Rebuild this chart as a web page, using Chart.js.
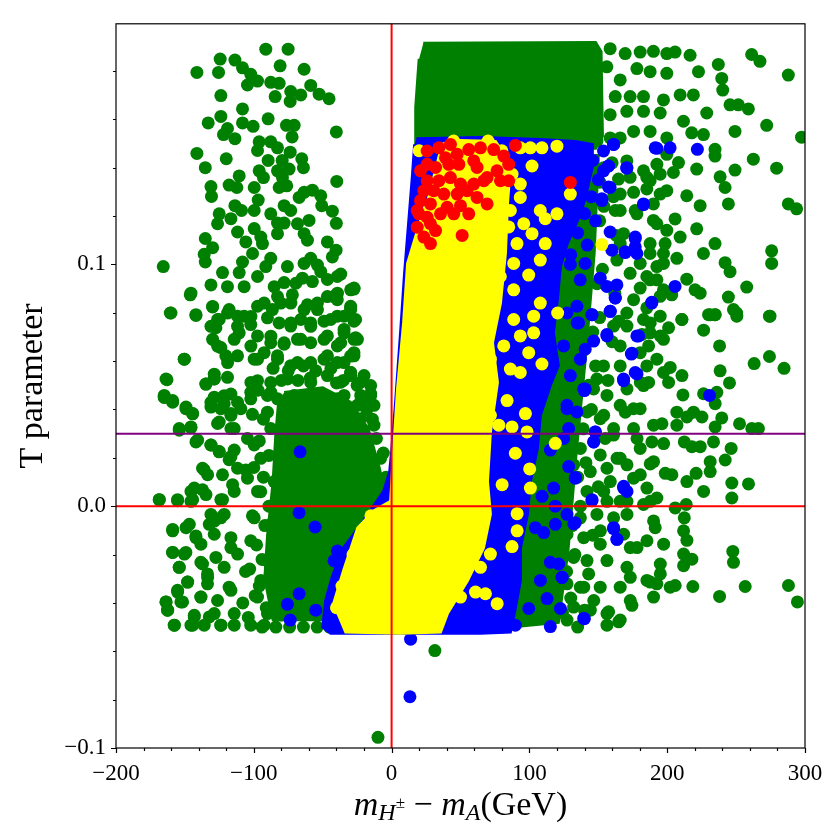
<!DOCTYPE html>
<html>
<head>
<meta charset="utf-8">
<script src="https://cdn.jsdelivr.net/npm/chart.js@4.4.1/dist/chart.umd.min.js"></script>
<style>
html, body { margin: 0; padding: 0; background: #fff; }
canvas { display: block; }
</style>
</head>
<body>
<canvas id="chart" width="840" height="840"></canvas>
<script>
// axis ranges and tick labels
var xRange = [-200, 300]
var yRange = [-0.1, 0.1995]
var xTicks = [-200, -100, 0, 100, 200, 300]
var yTicks = [-0.1, 0.0, 0.1]
var xMinorStep = 20
var yMinorStep = 0.02

// reference lines
var refX = 0
var refY0 = 0
var refYPurple = 0.03

// outlines of the fully covered areas (x, T)
var greenBlock = [[23,0.1915],[148,0.1918],[152,0.188],[153,0.153],[148,0.148],[17,0.148],[17.5,0.165],[20,0.185]]
var greenLeftCore = [[-78,0.047],[-50,0.049],[-30,0.043],[-17,0.032],[-9,0.016],[-5,0.005],[-1,-0.003],[-39,-0.047],[-86,-0.047],[-92,-0.03],[-90,-0.012],[-86,0.01],[-84,0.03],[-82,0.043]]
var greenRightCore = [[144,0.145],[150,0.145],[147,0.1045],[141,0.0635],[134,0.0225],[128,-0.0184],[121,-0.048],[86,-0.05],[93.5,-0.0225],[100.7,0.0102],[111.6,0.043],[117.4,0.084],[126,0.1086],[140.6,0.1332]]
var blueBand = [[18.1,0.152],[64.5,0.1525],[108,0.1516],[133.3,0.1508],[145.7,0.1496],[145.7,0.1402],[139.9,0.1262],[135.5,0.1189],[127.5,0.1086],[122.5,0.0992],[120.3,0.0852],[117.4,0.0717],[121,0.0582],[115.2,0.05],[108,0.0377],[105.8,0.0238],[100.7,0.0102],[98.6,-0.0033],[93.5,-0.0172],[93.5,-0.0307],[89.1,-0.0443],[86.2,-0.052],[64.5,-0.0525],[6.5,-0.0525],[-44.2,-0.0525],[-50,-0.05],[-47.8,-0.0389],[-42.8,-0.0287],[-34.8,-0.0172],[-20.3,-0.0061],[-5.8,0.0061],[-1.4,0.0143],[0,0.0225],[2.9,0.043],[6.5,0.0717],[9.4,0.0963],[12.3,0.1168],[15.2,0.1373],[16.7,0.1496]]
var yellowBand = [[35.5,0.1496],[50,0.1512],[75.4,0.1508],[86.2,0.1414],[84.1,0.125],[82.6,0.1045],[79,0.084],[73.2,0.0676],[76.8,0.0512],[71.7,0.0307],[69.6,0.0102],[71.7,-0.0033],[66.7,-0.0172],[55.1,-0.0307],[40.6,-0.0443],[35.5,-0.052],[6.5,-0.0525],[-33.3,-0.052],[-42,-0.0402],[-34.8,-0.0266],[-24.6,-0.009],[-13,-0.002],[-0.7,0.002],[1.4,0.0225],[4.3,0.0484],[8.7,0.0758],[11.6,0.1004],[13.8,0.1045],[24.6,0.125]]

// single points (x, T)
var greenPts = [
[-91.3,0.189],[-75.1,0.189],[-124.4,0.1849],[-113.7,0.1845],[-141.3,0.1794],[-125.6,0.1794],[-108.2,0.1813],[-102.2,0.1786],[-97.3,0.1758],[-104.6,0.1742],[-87.7,0.1753],[-81.6,0.1749],[-80.9,0.1821],[-63.5,0.1807],[-73.2,0.1715],[-65.9,0.1701],[-58.7,0.174],[-52.6,0.1704],[-45.4,0.1685],[-73.6,0.1674],[-84.5,0.1694],[-123.9,0.1698],[-108.2,0.1643],[-133.1,0.1585],[-123.9,0.1612],[-108.2,0.1585],[-100.5,0.1571],[-89.6,0.1602],[-119.1,0.1562],[-122,0.1537],[-113.7,0.152],[-76.3,0.1575],[-70.7,0.1575],[-72.2,0.1527],[-40.1,0.1548],[-96.1,0.1507],[-97.3,0.1471],[-87.7,0.1507],[-82.8,0.1482],[-73.6,0.1464],[-141.3,0.1459],[-120,0.1437],[-89.6,0.143],[-79.4,0.143],[-65.2,0.1437],[-64,0.14],[-135.2,0.14],[-96.1,0.1387],[-93,0.1359],[-82.8,0.1387],[-74.4,0.1394],[-79.2,0.1359],[-110.6,0.1366],[-117.9,0.1328],[-112.3,0.1318],[-131.1,0.1322],[-130.7,0.1281],[-99.7,0.1318],[-81.6,0.1318],[-76.1,0.1325],[-96.8,0.1266],[-67.1,0.1277],[-63.5,0.1298],[-57.5,0.1307],[-51.4,0.1284],[-50.7,0.1243],[-39.8,0.1343],[-43,0.122],[-40.1,0.117],[-78,0.1243],[-73.2,0.1223],[-87.7,0.1209],[-99.7,0.1223],[-113.7,0.1243],[-108.9,0.1223],[-125.1,0.1209],[-116.6,0.1189],[-126.3,0.1168],[-82.8,0.1171],[-78,0.1171],[-59.9,0.1182],[-68.3,0.1168],[-111.8,0.1134],[-99.7,0.1148],[-94.9,0.1113],[-82.8,0.1127],[-63.5,0.1127],[-135.2,0.1107],[-105.8,0.1093],[-93.7,0.1086],[-61.1,0.11],[-46.6,0.1093],[-40.3,0.1059],[-43,0.1031],[-129.9,0.1069],[-136,0.1042],[-135.2,0.101],[-100.9,0.1045],[-108.2,0.101],[-87.7,0.1025],[-91.3,0.0991],[-75.6,0.0991],[-63.5,0.1004],[-58.7,0.1025],[-53.8,0.0997],[-51.4,0.097],[-46.6,0.0938],[-36.9,0.096],[-165.7,0.0991],[-122.7,0.0966],[-131.1,0.0915],[-119.1,0.0908],[-110.6,0.0966],[-107,0.0908],[-97.3,0.095],[-85.2,0.0908],[-78,0.0925],[-69.5,0.0922],[-64.7,0.0943],[-57.5,0.0929],[-27.3,0.0898],[-146.1,0.0874],[-160.6,0.0799],[-142,0.0789],[-129.9,0.0824],[-117.9,0.0813],[-107,0.0786],[-97.3,0.0827],[-86.5,0.0813],[-80.4,0.084],[-72,0.0874],[-61.1,0.0833],[-53.8,0.0813],[-46.6,0.0867],[-39.3,0.0881],[-29.7,0.082],[-125.1,0.0772],[-127.5,0.0738],[-111.8,0.0786],[-102.2,0.0751],[-90.1,0.0779],[-81.6,0.0758],[-73.2,0.0745],[-65.9,0.0772],[-58.7,0.0758],[-49,0.0765],[-34.5,0.0786],[-27.3,0.0765],[-129.9,0.069],[-123.9,0.0656],[-110.6,0.0717],[-97.3,0.0704],[-87.7,0.0676],[-78,0.067],[-68.3,0.069],[-58.7,0.0676],[-46.6,0.0704],[-36.9,0.0676],[-26.1,0.0697],[-150.5,0.0608],[-120.3,0.0622],[-111.8,0.0622],[-99.7,0.0608],[-92.5,0.0635],[-82.8,0.0622],[-73.2,0.0581],[-58.7,0.0594],[-46.6,0.0622],[-34.5,0.0594],[-27.3,0.0622],[-163,0.0523],[-134.8,0.0505],[-128.7,0.0526],[-119.1,0.0533],[-97.3,0.0519],[-87.7,0.0512],[-75.6,0.0526],[-58.7,0.0512],[-46.6,0.054],[-29.7,0.054],[-15.2,0.0464],[-165,0.0458],[-128.7,0.0451],[-116.6,0.0464],[-102.2,0.0471],[-90.1,0.0458],[-70.7,0.0458],[-49,0.0451],[-34.5,0.0458],
[-39.4,0.095],[-27.3,0.0902],[-39.4,0.0854],[-29.7,0.0827],[-39.4,0.0786],[-26.1,0.0772],[-34.5,0.0731],[-27.3,0.069],[-39.4,0.0663],[-27.3,0.0635],[-39.4,0.0594],[-29.7,0.0553],[-36.9,0.0513],[-22.5,0.0513],[-15.2,0.0465],[-39.4,0.0444],[-24.9,0.0417],[-36.9,0.039],[-12.8,0.0417],[-12.8,0.0335],[-22.5,0.0362],[-34.5,0.0335],[-36.9,0.028],[-20,0.0253],[-8,0.0198],[-29.7,0.0198],[-15.2,0.0116],[-34.5,0.0089],[-5.6,0.0075],[-22.5,0.0034],
[-165,0.0451],[-158.9,0.043],[-149.3,0.0403],[-144.4,0.0383],[-154.1,0.0314],[-145.6,0.0328],[-126.3,0.0342],[-131.1,0.041],[-121.5,0.0424],[-116.6,0.0383],[-109.4,0.0403],[-140.8,0.0273],[-131.1,0.0253],[-125.1,0.0226],[-114.2,0.0232],[-117.9,0.0192],[-136,0.015],[-145.6,0.0061],[-137.2,0.0068],[-168.6,0.0027],[-155.3,0.0027],[-144.4,0.0027],[-123.9,0.0027],[-114.2,0.0061],[-105.8,0.015],[-104.6,0.0116],[-131.1,-0.0034],[-123.9,-0.0048],[-132.3,-0.0075],[-146.8,-0.0075],[-158.9,-0.0102],[-142,-0.013],[-128.7,-0.0116],[-158.9,-0.0191],[-149.3,-0.0191],[-138.4,-0.0157],[-154.1,-0.0253],[-138.4,-0.0232],[-133.6,-0.028],[-148,-0.0314],[-133.6,-0.0321],[-155.3,-0.0348],[-152.9,-0.0396],[-163.7,-0.0396],[-162.6,-0.043],[-157.7,-0.0492],[-144.4,-0.0492],[-136,-0.0492],[-123.9,-0.0492],[-114.2,-0.0492],[-138.4,-0.0376],[-128.7,-0.0444],[-143.2,-0.0458],[-117.9,-0.0335],[-121.5,-0.0253],[-111.8,-0.0198],[-102.2,-0.0143],[-116.6,-0.013],[-99.7,-0.0048],[-99.7,0.0253],[-94.9,0.0198],[-87.7,0.0321],[-90.1,0.0389],[-102.2,0.0444],[-82.8,0.0444],[-73.2,0.0403],[-53.8,0.043],[-39.3,0.0403],[-20,0.0417],[-29.7,0.0335],[-68.3,0.0362],[-58.7,0.0348],[-46.6,0.0376],[-22.4,0.0458],[-15.2,0.0499],[-94.9,-0.0307],[-90.1,-0.0444],[-102.2,-0.0492],[-92.5,-0.0492],[-97.3,-0.0376],[-90.1,-0.0225],[-87.7,-0.0075],[-85.2,0.0102],[-82.8,0.002],[-97.3,0.0061],[-108,-0.04],[-106,-0.027],[-80,-0.045],[-75,-0.038],
[-145.6,0.0881],[-160.1,0.0799],[-142,0.0792],[-129.9,0.0826],[-150.4,0.0608],[-163.7,0.0526],[-134.7,0.0505],[-128.7,0.0526],[-164.9,0.045],[-158.9,0.0437],[-149.2,0.041],[-144.4,0.0382],[-154.1,0.0321],[-145.6,0.0325],[-142,0.0266],[-131.1,0.0253],[-125.1,0.0225],[-116.6,0.0205],[-137.2,0.0157],[-133.5,0.013],[-122.7,0.013],[-111.8,0.0157],[-143.2,0.0075],[-134.7,0.0048],[-168.6,0.0027],[-155.3,0.0023],[-145.6,0.002],[-122.7,0.0027],[-115.4,0.0089],[-158.9,-0.0096],[-149.2,-0.0089],[-142,-0.0123],[-128.7,-0.0062],[-121.5,-0.0034],[-158.9,-0.0191],[-150.4,-0.0198],[-154.1,-0.0253],[-137.2,-0.0239],[-127.5,-0.0212],[-116.6,-0.0171],[-148,-0.0314],[-155.3,-0.0355],[-133.5,-0.0294],[-138.4,-0.0376],[-163.7,-0.0396],[-151.7,-0.0396],[-162.5,-0.043],[-143.2,-0.0451],[-157.7,-0.0492],[-145.6,-0.0492],[-132.3,-0.0458],[-123.9,-0.0492],[-114.2,-0.0444],[-126.3,-0.039],[-116.6,-0.0348],[-128.7,0.0546],[-121.5,0.0457],[-111.8,0.043],[-116.6,0.0376],[-125.1,0.0348],[-114.2,0.0321],[-104.6,0.028],
[-131.1,0.0744],[-126.3,0.0772],[-119,0.0799],[-111.8,0.0744],[-102.1,0.0785],[-92.5,0.084],[-82.8,0.0867],[-73.1,0.084],[-63.5,0.0813],[-53.8,0.084],[-41.8,0.0867],[-29.7,0.0895],[-73.1,0.0758],[-58.7,0.0744],[-44.2,0.0772],[-29.7,0.0813],[-87.6,0.0703],[-78,0.0676],[-65.9,0.069],[-49,0.069],[-34.5,0.0717],[-24.8,0.069],[-114.2,0.069],[-102.1,0.0662],[-126.3,0.0662],[-119,0.0594],[-97.3,0.0608],[-82.8,0.0608],[-68.3,0.0594],[-49,0.0608],[-29.7,0.0621],[-20,0.054],[-29.7,0.0553],[-15.2,0.0457],[-131.1,0.043],[-123.9,0.0403],[-116.6,0.0321],[-102.1,0.0512],[-87.6,0.0471],
[-97,0.048],[-101,0.038],[-93,0.036],[-96,0.027],[-89,0.021],[-100,0.016],[-93,0.012],[-95,0.006],[-89,0.0],[-101,-0.004],[-92,-0.008],[-98,-0.016],[-94,-0.022],[-103,-0.026],[-96,-0.033],[-99,-0.037],[-91,-0.042],[-104,-0.046],
[-86,0.057],[-80,0.052],[-75,0.056],[-68,0.052],[-64,0.058],[-59,0.053],[-55,0.056],[-44,0.057],[-40,0.051],[-35,0.052],[-25,0.05],[-22,0.044],[-18,0.04],[-14,0.036],[-11,0.028],[-6,0.022],[-4,0.012],
[-94,-0.05],[-84,-0.05],[-74,-0.05],[-64,-0.05],[-54,-0.05],[-45,-0.05],
[31.4,-0.0597],[-9.9,-0.0956],
[158.6,0.1892],[169.5,0.1872],[180.4,0.1878],[190,0.1881],[199.7,0.1872],[205.7,0.1878],[216.6,0.1865],[178,0.181],[165.9,0.1763],[156.2,0.1817],[187.6,0.1797],[199.7,0.179],[222.7,0.1797],[237.1,0.1827],[239.6,0.1769],[261.3,0.1868],[267.3,0.184],[287.9,0.1783],[240.3,0.1721],[245.6,0.166],[251.6,0.166],[258.9,0.1643],[272.2,0.1575],[249.2,0.155],[217.8,0.1544],[226.3,0.1537],[228.7,0.1626],[219,0.1701],[209.4,0.1701],[197.3,0.168],[182.8,0.1694],[173.1,0.1694],[162.3,0.1694],[158.6,0.1619],[170.7,0.1633],[182.8,0.1633],[194.9,0.1626],[211.8,0.1592],[199.7,0.1523],[187.6,0.155],[175.6,0.155],[165.9,0.1523],[234.7,0.1476],[234.7,0.1448],[262.5,0.1435],[279.4,0.1398],[249.2,0.139],[238.4,0.1362],[242,0.1318],[244.4,0.125],[287.9,0.125],[293.9,0.123],[221.4,0.1394],[208.2,0.1421],[204.5,0.138],[185.2,0.136],[194.9,0.1373],[173.1,0.136],[165.9,0.1291],[185.2,0.1312],[199.7,0.1305],[214.2,0.1284],[223.9,0.1243],[190,0.125],[176.8,0.1223],[162.3,0.1223],[192.5,0.1168],[205.7,0.1188],[221.4,0.1147],[209.4,0.1113],[198.5,0.1086],[187.6,0.1045],[165.9,0.1086],[234.7,0.1086],[226.3,0.1045],[242,0.1007],[245.6,0.097],[275.8,0.1056],[275.8,0.1004],[257.7,0.0906],[244.4,0.0865],[220.2,0.0895],[223.9,0.0881],[214.2,0.0939],[197.3,0.1004],[207,0.1025],[185.2,0.095],[192.5,0.0936],[180.4,0.0902],[194.9,0.0868],[203.3,0.0874],[250.4,0.0799],[231.1,0.0792],[234.7,0.0792],[210.6,0.0772],[185.2,0.082],[274.6,0.0786],[297.5,0.1526],
[210.7,0.0772],[230,0.0792],[234.8,0.0792],[226.4,0.0728],[248.1,0.0813],[250.5,0.0786],[274.2,0.0786],[238,0.0663],[263.1,0.059],[274.2,0.0619],[284.8,0.057],[238.4,0.056],[245.2,0.051],[202.2,0.0574],[210.7,0.054],[201,0.0512],[186.5,0.0663],[195,0.0704],[201,0.0738],[186.5,0.0512],[180.5,0.0512],[211.4,0.046],[236,0.0471],[234.8,0.0424],[226.4,0.0465],[207,0.0389],[214.3,0.0369],[219.1,0.0389],[225.2,0.0369],[239.6,0.0365],[252.5,0.0341],[261.4,0.0321],[266.2,0.0321],[234.8,0.0328],[196.2,0.0341],[207,0.0335],[212.4,0.0266],[217.9,0.0246],[224,0.0246],[233.6,0.0266],[246.4,0.0239],[242.1,0.0191],[231.2,0.0184],[231.2,0.0143],[221,0.0136],[214.3,0.0102],[203.4,0.013],[198.6,0.0136],[187.7,0.0175],[180.5,0.013],[188.9,0.0266],[197.4,0.0259],[178.1,0.028],[246.9,0.0096],[259,0.0092],[246.9,0.0034],[226.4,0.0061],[213.8,0.0007],[205.8,-0.0007],[187.7,0.002],[192.5,0.0034],[212.4,-0.0048],[211.9,-0.0102],[214.3,-0.0141],[191.3,-0.0089],[197.4,-0.0157],[211.9,-0.0198],[217.9,-0.0219],[211.9,-0.0246],[195,-0.0239],[195,-0.028],[192.5,-0.0321],[202.2,-0.0335],[205.8,-0.0328],[218.6,-0.0332],[238,-0.0373],[256.6,-0.0332],[288,-0.0328],[294.5,-0.0396],[247.6,-0.0187],[248.1,-0.0232],[187.7,-0.0314],[173.2,-0.0294],[174.4,-0.041],[164.8,-0.0478],[156.3,-0.0492],[157.5,-0.0437],[146.7,-0.039],[137,-0.0335],[178.1,-0.0171],[168.4,-0.0116],[161.1,-0.0048],[151.5,-0.0102],[156.3,0.002],[170.8,0.002],[163.6,0.0198],[156.3,0.0157],[170.8,0.0171],[175.6,0.0403],[169.6,0.0389],[153.9,0.0376],[161.1,0.0294],[164.8,0.0765],[170.8,0.0745],[181.7,0.071],[187.7,0.0758],
[149,0.151],[158.6,0.1523],[170.7,0.1428],[182.8,0.1387],[192.5,0.1414],[199.7,0.1455],[164.7,0.1353],[175.6,0.1298],[187.6,0.1346],[194.9,0.1291],[165.9,0.1223],[178,0.1209],[190,0.1182],[199.7,0.1141],[168.3,0.1127],[187.6,0.1086],[197.3,0.1045],[163.5,0.1018],[180.4,0.1004],[192.5,0.0991],[173.1,0.0963],[187.6,0.0936],[197.3,0.0895],[175.6,0.0854],[170.7,0.0799],[182.8,0.0772],[194.9,0.0786],[161.1,0.0745],[187.6,0.0717],[197.3,0.069],[165.9,0.0663],[180.4,0.0635],[192.5,0.0608],[153.8,0.058],[165.9,0.058],[185.2,0.058],[197.3,0.0553],[149,0.0526],
[132.1,0.0471],[146.6,0.0485],[156.3,0.0458],[170.8,0.0485],[182.8,0.0499],[165.9,0.0417],[180.4,0.0403],[190.1,0.0335],[141.8,0.039],[151.4,0.0362],[161.1,0.0321],[175.6,0.0321],[137,0.0239],[151.4,0.0212],[165.9,0.0198],[180.4,0.0239],[190.1,0.0184],[132.1,0.0171],[144.2,0.0143],[158.7,0.0102],[175.6,0.0116],[185.3,0.0075],[141.8,0.0061],[153.9,0.0061],[165.9,0.002],[182.8,0.0007],[137,-0.0048],[149,-0.0034],[170.8,-0.0034],[190.1,-0.0061],[127.3,-0.0116],[139.4,-0.013],[151.4,-0.0157],[173.2,-0.0171],[185.3,-0.0143],[132.1,-0.0212],[141.8,-0.0225],[156.3,-0.0225],[170.8,-0.0253],[185.3,-0.0307],[127.3,-0.0321],[139.4,-0.0335],[151.4,-0.0335],[165.9,-0.0335],[173.2,-0.039],[190.1,-0.0376],[132.1,-0.0417],[144.2,-0.043],[156.3,-0.0444],[165.9,-0.0471],[127.3,-0.0471],[103.1,-0.0444],[95.9,-0.0362],[108,-0.0198],[103.1,-0.0143],[120,-0.0143],[98.3,-0.0007],
[135,-0.05],[140,-0.043],[143,-0.028],[146,-0.012],[150,0.008],[155,0.028],[157,0.052],[160,0.068],[162,0.088],[163,0.112],[161,0.128],[160,0.142],
[124,-0.044],[130,-0.038],[127,-0.027],[133,-0.02],[131,-0.008],[137,0.0],[135,0.012],[141,0.018],[139,0.032],[145,0.04],[143,0.05],[148,0.058],[146,0.072],[151,0.078],[149,0.092],[153,0.098],[151,0.118],[154,0.124],[151,0.134],[154,0.14]
]
var bluePts = [
[192.5,0.148],[202.1,0.1482],[221.9,0.1476],[161.1,0.1496],[170.7,0.1398],[157.4,0.1407],[182.8,0.1247],[176.8,0.1113],[178,0.1045],[169.5,0.1049],[205.7,0.0909],[188.8,0.0843],[158.6,0.0806],[162.3,0.0861],[153.8,0.1387],[157.4,0.132],[152.6,0.1264],
[145.4,0.0792],[158.7,0.0806],[156.3,0.0704],[179.3,0.0704],[174,0.0629],[178.1,0.0547],[168.4,0.0519],[139.9,0.0478],[230.7,0.0458],[147.9,0.0307],[146.7,0.0266],[133.4,0.0119],[168.4,0.0082],[170.8,0.0061],[145.4,0.0023],[132.2,-0.0073],[161.1,-0.0093],[163.6,-0.0137],[123.7,-0.0294],[139.9,-0.0465],[127.3,0.0799],[134.6,0.0758],[124.9,0.0663],[137,0.0608],[129.7,0.054],[127.3,0.0403],[128.5,0.0321],
[153.8,0.1469],[161.1,0.1496],[157.4,0.1407],[170.7,0.14],[158.6,0.1318],[152.6,0.1271],[182.8,0.125],[158.6,0.1134],[176.8,0.1107],[176.8,0.1073],[169.5,0.1052],[159.9,0.1059],[191.3,0.1482],[129.7,0.1],[140.5,0.1004],[136.9,0.0936],[151.4,0.0943],[163.5,0.0915],[156.2,0.0909],[162.3,0.0861],[188.8,0.084],[134.5,0.0827],[145.4,0.0792],[135.7,0.0758],[156.2,0.071],[178,0.0704],[146.6,0.0683],[140.5,0.0649],[174.4,0.0633],[168.3,0.0526],[176.8,0.0553],[140.5,0.0485],
[140,0.147],[146,0.143],[150,0.135],[145,0.128],[140,0.121],[148,0.118],[135,0.113],[142,0.108],[130,0.104],
[139.4,0.0485],[127.3,0.0417],[134.5,0.039],[147.8,0.0307],[146.6,0.0266],[124.9,0.028],[115.2,0.0232],[128.5,0.0164],[133.3,0.0116],[117.6,0.0075],[109.2,0.0041],[168.4,0.0075],[145.4,0.0027],[118.8,0],[127.3,-0.0034],[133.3,-0.0068],[118.8,-0.0075],[161.1,-0.0089],[163.5,-0.0137],[104.3,-0.0089],[110.4,-0.0109],[115.2,-0.0232],[121.3,-0.0239],[123.7,-0.0294],[108,-0.0307],[112.8,-0.0382],[122.5,-0.0423],[99.5,-0.0423],[139.4,-0.0464],[115.2,-0.0498],[89.8,-0.0492],[83.8,-0.043],
[-66.4,0.0225],[-67.1,-0.0027],[-55.5,-0.0086],[-67.1,-0.0362],[-75.6,-0.0406],[-55,-0.043],[-73.6,-0.0471],[-39.3,-0.0185],[-41.8,-0.0226],
[13.8,-0.055],[13.3,-0.0788]
]
var yellowPts = [
[93.4,0.1482],[100.7,0.1482],[109.1,0.1482],[120,0.1489],[101.9,0.1407],[87.4,0.1373],[129.7,0.1291],[93.4,0.1277],[107.9,0.1223],[111.5,0.1189],[120,0.1209],[95.9,0.1168],[101.9,0.1127],[111.5,0.1086],[152.6,0.1082],[107.9,0.1018],[99.5,0.0956],[88.6,0.1004],[78.9,0.095],[88.6,0.0895],[107.9,0.084],[120.5,0.0799],[103.1,0.0786],[88.6,0.0772],[93.4,0.0704],[103.1,0.0717],[99.5,0.0635],[109.1,0.0588],[86.2,0.0567],[93.4,0.0553],[71.7,0.0608],[81.4,0.0663],[91,0.1086],[85,0.1155],[76.5,0.1127],[86.2,0.1223],[93.4,0.1332],
[83.8,0.0437],[97.1,0.0383],[87.4,0.0328],[77.8,0.0335],[71.7,0.0376],[98.3,0.0307],[118.8,0.026],[89.8,0.0219],[100.2,0.0154],[100.7,0.0075],[80.2,0.0089],[91.1,-0.0031],[91.1,-0.0102],[87.4,-0.0167],[71.7,-0.0198],[64.5,-0.0253],[60.9,-0.0355],[68.1,-0.0362],[76.6,-0.0403],[50,-0.0376],
[20,0.147],[45,0.151],[70,0.151],[80,0.147],[60,0.143],[72,0.14],
[-30,-0.047],[-40,-0.042],[-36,-0.033],[-28,-0.02],[-22,-0.012],[-15,-0.004]
]
var redPts = [
[25.8,0.1469],[34.3,0.1482],[42.7,0.1496],[39.1,0.1441],[47.6,0.1455],[25.8,0.1414],[21,0.1387],[31.9,0.1401],[41.5,0.1414],[48.8,0.1414],[56,0.1475],[64.5,0.1482],[74.1,0.1475],[81.4,0.1448],[85,0.1414],[89.8,0.1492],[59.6,0.1428],[62,0.1401],[76.5,0.1387],[69.3,0.1359],[79,0.1346],[85,0.1346],[25.8,0.1346],[34.3,0.1346],[42.7,0.1359],[50,0.1332],[59.6,0.1332],[66.9,0.1346],[23.4,0.1305],[30.6,0.1305],[37.9,0.1291],[47.6,0.1291],[54.8,0.1305],[62,0.1277],[21,0.1264],[28.2,0.125],[40.3,0.1236],[50,0.1243],[56,0.1209],[69.3,0.125],[19.8,0.1209],[25.8,0.1195],[35.5,0.1209],[45.1,0.1209],[18.6,0.1154],[28.2,0.1168],[23.4,0.1113],[31.9,0.114],[28.2,0.1086],[51.2,0.112],[129.7,0.1339],[18.6,0.1223]
]

var GREEN = '#008000', BLUE = '#0000ff', YELLOW = '#ffff00', RED = '#ff0000', PURPLE = '#800080'
var SERIF = '"Liberation Serif", "DejaVu Serif", serif'
var DOT = 6.5

function xy(list) {
    return list.map(function (p) { return {x: p[0], y: p[1]} })
}

function area(list, color, order) {
    return {
        type: 'line',
        data: xy(list),
        backgroundColor: color,
        borderColor: color,
        borderWidth: 3,
        fill: 'shape',
        pointRadius: 0,
        tension: 0,
        order: order
    }
}

function dots(list, color, order) {
    return {
        type: 'scatter',
        data: xy(list),
        backgroundColor: color,
        borderWidth: 0,
        pointRadius: DOT,
        pointHoverRadius: DOT,
        order: order
    }
}

function rule(a, b, color) {
    return {
        type: 'line',
        data: [{x: a[0], y: a[1]}, {x: b[0], y: b[1]}],
        borderColor: color,
        borderWidth: 2,
        pointRadius: 0,
        fill: false,
        order: 0
    }
}

// white page, frame, tick marks and axis titles
var decorations = {
    id: 'decorations',
    beforeDraw: function (chart) {
        var c = chart.ctx
        c.save()
        c.fillStyle = '#fff'
        c.fillRect(0, 0, chart.width, chart.height)
        c.restore()
    },
    afterDraw: function (chart) {
        var c = chart.ctx, a = chart.chartArea
        var xs = chart.scales.x, ys = chart.scales.y
        c.save()
        c.strokeStyle = '#000'
        c.lineWidth = 1.2
        c.strokeRect(a.left, a.top, a.right - a.left, a.bottom - a.top)

        c.beginPath()
        for (var v = xRange[0]; v <= xRange[1] + 1e-9; v += xMinorStep) {
            var major = Math.abs(v % 100) < 1e-9
            var px = Math.round(xs.getPixelForValue(v)) + 0.5
            c.moveTo(px, a.bottom)
            c.lineTo(px, a.bottom + (major ? 5 : 3))
        }
        for (var k = 0; ; k++) {
            var w = yRange[0] + k * yMinorStep
            if (w > yRange[1]) break
            var maj = Math.abs(Math.round(w * 10) - w * 10) < 1e-6
            var py = Math.round(ys.getPixelForValue(w)) + 0.5
            c.moveTo(a.left, py)
            c.lineTo(a.left - (maj ? 5 : 3), py)
        }
        c.stroke()

        // y title
        c.fillStyle = '#000'
        c.font = '34px ' + SERIF
        c.textAlign = 'center'
        c.textBaseline = 'middle'
        c.translate(33, (a.top + a.bottom) / 2)
        c.rotate(-Math.PI / 2)
        c.fillText('T parameter', 0, 0)
        c.setTransform(1, 0, 0, 1, 0, 0)

        // x title: m_{H±} − m_A(GeV)
        var big = 34, small = 24, tiny = 17
        var parts = [
            {t: 'm', f: 'italic ' + big + 'px ' + SERIF, dy: 0},
            {t: 'H', f: 'italic ' + small + 'px ' + SERIF, dy: 5},
            {t: '\u00b1', f: tiny + 'px ' + SERIF, dy: -7},
            {t: ' \u2212 ', f: big + 'px ' + SERIF, dy: 0},
            {t: 'm', f: 'italic ' + big + 'px ' + SERIF, dy: 0},
            {t: 'A', f: 'italic ' + small + 'px ' + SERIF, dy: 5},
            {t: '(GeV)', f: big + 'px ' + SERIF, dy: 0}
        ]
        var total = 0
        parts.forEach(function (p) { c.font = p.f; p.w = c.measureText(p.t).width; total += p.w })
        var x0 = (a.left + a.right) / 2 - total / 2, base = 815
        c.textAlign = 'left'
        c.textBaseline = 'alphabetic'
        parts.forEach(function (p) {
            c.font = p.f
            c.fillText(p.t, x0, base + p.dy)
            x0 += p.w
        })
        c.restore()
    }
}

var chart = new Chart(
    document.getElementById('chart'),
    {
        type: 'scatter',
        data: {
            datasets: [
                rule([refX, -0.2], [refX, 0.3], RED),
                rule([-250, refY0], [350, refY0], RED),
                rule([-250, refYPurple], [350, refYPurple], PURPLE),
                dots(redPts, RED, 1),
                dots(yellowPts, YELLOW, 2),
                area(yellowBand, YELLOW, 3),
                dots(bluePts, BLUE, 4),
                area(blueBand, BLUE, 5),
                dots(greenPts, GREEN, 6),
                area(greenBlock, GREEN, 7),
                area(greenLeftCore, GREEN, 7),
                area(greenRightCore, GREEN, 7)
            ]
        },
        options: {
            responsive: false,
            animation: false,
            layout: {
                padding: {top: 17, right: 35, left: 0, bottom: 0}
            },
            plugins: {
                legend: {display: false},
                tooltip: {enabled: false}
            },
            scales: {
                x: {
                    type: 'linear',
                    min: xRange[0],
                    max: xRange[1],
                    grid: {display: false, drawTicks: false},
                    border: {display: false},
                    afterBuildTicks: function (s) { s.ticks = xTicks.map(function (v) { return {value: v} }) },
                    afterFit: function (s) { s.height = 92 },
                    ticks: {
                        padding: 12,
                        color: '#000',
                        maxRotation: 0,
                        font: {family: SERIF, size: 23},
                        callback: function (v) { return v === 0 ? '0' : String(v).replace('-', '\u2212') }
                    }
                },
                y: {
                    type: 'linear',
                    min: yRange[0],
                    max: yRange[1],
                    grid: {display: false, drawTicks: false},
                    border: {display: false},
                    afterBuildTicks: function (s) { s.ticks = yTicks.map(function (v) { return {value: v} }) },
                    afterFit: function (s) { s.width = 116 },
                    ticks: {
                        padding: 10,
                        color: '#000',
                        font: {family: SERIF, size: 23},
                        callback: function (v) { return v.toFixed(1).replace('-', '\u2212') }
                    }
                }
            }
        },
        plugins: [decorations]
    }
);
</script>
</body>
</html>
